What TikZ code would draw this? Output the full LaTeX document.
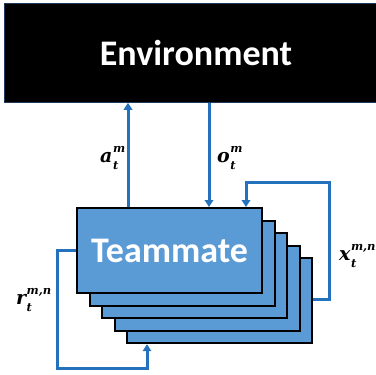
\documentclass[tikz,border=0pt]{standalone}
\usepackage{fontspec}
\setmainfont{Carlito}
\newfontfamily\labfam{DejaVu Serif}
\usetikzlibrary{arrows.meta,calc}
\definecolor{boxblue}{HTML}{5B9BD5}
\definecolor{lineblue}{HTML}{2472BE}
\definecolor{envedge}{HTML}{1F3B5C}
\tikzset{
  mate/.style={draw=black, line width=2.2pt, fill=boxblue, minimum width=185pt, minimum height=85pt, anchor=north west, inner sep=0pt},
  arr/.style={draw=lineblue, line width=3pt, -{Triangle[length=7pt,width=8.5pt]}},
  lbl/.style={inner sep=0pt, font=\labfam\bfseries\itshape\fontsize{19}{19}\selectfont},
  bigtxt/.style={text=white, font=\bfseries\fontsize{36}{36}\selectfont, inner sep=0pt}
}
\newcommand{\labsmall}{\fontsize{11.5}{11.5}\selectfont}
\newcommand{\lab}[3]{#1\kern0.5pt\rlap{\raisebox{0.5em}{\labsmall #2}}\raisebox{-0.4em}{\labsmall #3}}
\begin{document}
\begin{tikzpicture}[x=1pt,y=-1pt]
\useasboundingbox (0,0) rectangle (376,375);
\node[fill=black, draw=envedge, line width=0.8pt, minimum width=373pt, minimum height=99pt, anchor=north west, inner sep=0pt] (env) at (4,3) {};
\node[bigtxt] (envlabel) at (196,53) {Environment};
\node[mate] (t5) at (126,257) {};
\node[mate] (t4) at (113.5,244.5) {};
\node[mate] (t3) at (101,232) {};
\node[mate] (t2) at (88.5,219.5) {};
\node[mate] (t1) at (76,207) {};
\node[bigtxt] (matelabel) at (t1.center) {Teammate};
\coordinate (ax) at (128,0);
\coordinate (ox) at (209,0);
\coordinate (xr) at (329,299);
\coordinate (xt) at (246,182);
\coordinate (rl) at (57,250);
\coordinate (rb) at (147,368);
\draw[arr] (t1.north -| ax) -- (env.south -| ax);
\draw[arr] (env.south -| ox) -- (t1.north -| ox);
\draw[arr] (t5.east |- xr) -- (xr) -- (xr |- xt) -- (xt) -- (t1.north -| xt);
\draw[arr] (t1.west |- rl) -- (rl) -- (rl |- rb) -- (rb) -- (t5.south -| rb);
\node[lbl, anchor=base west] (la) at (100,162) {\lab{a}{m}{t}};
\node[lbl, anchor=base west] (lo) at (217,162) {\lab{o}{m}{t}};
\node[lbl, anchor=base west] (lx) at (339,260) {\lab{x}{m,n}{t}};
\node[lbl, anchor=base west] (lr) at (16,304) {\lab{r}{m,n}{t}};
\end{tikzpicture}
\end{document}
